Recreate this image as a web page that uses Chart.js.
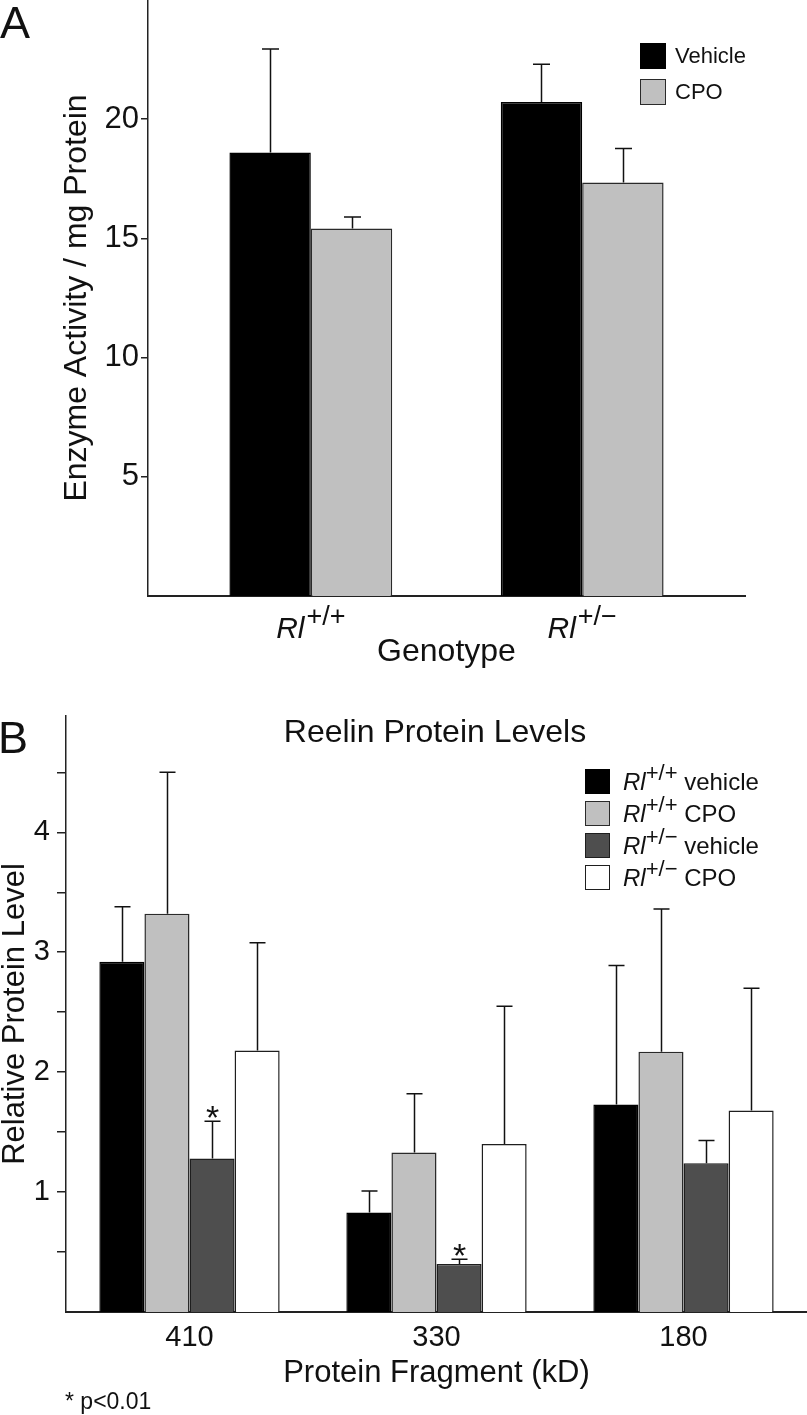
<!DOCTYPE html>
<html>
<head>
<meta charset="utf-8">
<script src="https://cdn.jsdelivr.net/npm/chart.js@4.4.0/dist/chart.umd.min.js"></script>
<style>
  body { margin: 0; background: #fff; font-family: "Liberation Sans", Arial, sans-serif; color: #111; }
  #page { position: relative; width: 807px; height: 1415px; overflow: hidden; }
  .panel { position: absolute; left: 0; width: 807px; }
  .txt { position: absolute; line-height: 1; white-space: nowrap; }
  .letter { font-size: 45px; }
  .legend { position: absolute; }
  .legend .row { display: flex; align-items: center; }
  .legend .sw { box-sizing: border-box; border: 1.5px solid #222; }
  .legend i { font-style: italic; }
  .legend sup { vertical-align: baseline; position: relative; }
</style>
</head>
<body>
<div id="page">
  <div class="panel" style="top:0;height:680px"><canvas id="enzyme-chart"></canvas></div>
  <div class="panel" style="top:680px;height:735px"><canvas id="reelin-chart"></canvas></div>

  <div class="txt letter" style="left:0;top:0">A</div>
  <div class="txt letter" style="left:-2px;top:715px">B</div>
  <div class="txt" style="left:435px;top:715px;font-size:32px;transform:translateX(-50%)">Reelin Protein Levels</div>
  <div class="txt" style="left:65px;top:1390px;font-size:23px">* p&lt;0.01</div>

  <div class="legend" id="legend-a" style="left:640px;top:43px;font-size:22px"></div>
  <div class="legend" id="legend-b" style="left:585px;top:769px;font-size:24px"></div>
</div>

<script>
//panel A data
let genotypeBase = ['Rl', 'Rl'];
let genotypeSup = ['+/+', '+/\u2212'];
let vehicleMeans = [18.6, 20.72];
let vehicleErr = [4.34, 1.58];
let cpoMeans = [15.42, 17.34];
let cpoErr = [0.48, 1.43];
let enzymeTicks = [5, 10, 15, 20];

//panel B data
let fragments = ['410', '330', '180'];
let wtVehicle = [2.92, 0.83, 1.73];
let wtVehicleErr = [0.46, 0.18, 1.16];
let wtCpo = [3.32, 1.33, 2.17];
let wtCpoErr = [1.18, 0.49, 1.19];
let hetVehicle = [1.28, 0.40, 1.24];
let hetVehicleErr = [0.31, 0.04, 0.19];
let hetCpo = [2.18, 1.40, 1.68];
let hetCpoErr = [0.90, 1.15, 1.02];
let hetVehicleSig = [true, true, false];
let reelinTicks = [0.5, 1, 1.5, 2, 2.5, 3, 3.5, 4, 4.5];
let legendGenotype = ['+/+', '+/+', '+/\u2212', '+/\u2212'];
let legendTreatment = ['vehicle', 'CPO', 'vehicle', 'CPO'];

const FONT = '"Liberation Sans", Arial, sans-serif';
Chart.defaults.font.family = FONT;
Chart.defaults.color = '#111';

//error bars (upper only) + significance stars
const errorBars = {
  id: 'errorBars',
  afterDatasetsDraw(chart, args, opts) {
    const ctx = chart.ctx;
    const yScale = chart.scales.y;
    ctx.save();
    ctx.strokeStyle = '#111';
    ctx.fillStyle = '#111';
    ctx.lineWidth = opts.lineWidth;
    chart.data.datasets.forEach((ds, i) => {
      if (!ds.errors) return;
      const meta = chart.getDatasetMeta(i);
      meta.data.forEach((bar, j) => {
        const d = ds.data[j];
        const v = typeof d === 'object' ? d.y : d;
        const top = yScale.getPixelForValue(v + ds.errors[j]);
        const x = Math.round(bar.x) + 0.5;
        ctx.beginPath();
        ctx.moveTo(x, bar.y);
        ctx.lineTo(x, top);
        ctx.moveTo(x - opts.cap / 2, top);
        ctx.lineTo(x + opts.cap / 2, top);
        ctx.stroke();
        if (ds.stars && ds.stars[j]) {
          ctx.font = '34px ' + FONT;
          ctx.textAlign = 'center';
          ctx.textBaseline = 'alphabetic';
          ctx.fillText('*', x, top + 8);
        }
      });
    });
    ctx.restore();
  }
};

//genotype tick labels with italic Rl and superscript
const genotypeLabels = {
  id: 'genotypeLabels',
  afterDraw(chart) {
    const ctx = chart.ctx;
    const xScale = chart.scales.x;
    const base = chart.chartArea.bottom + 42;
    ctx.save();
    ctx.fillStyle = '#111';
    ctx.textBaseline = 'alphabetic';
    ctx.textAlign = 'left';
    genotypeBase.forEach((txt, i) => {
      const cx = xScale.getPixelForValue(i + 1);
      ctx.font = 'italic 30px ' + FONT;
      const w1 = ctx.measureText(txt).width;
      ctx.font = '27px ' + FONT;
      const w2 = ctx.measureText(genotypeSup[i]).width;
      let x = cx - (w1 + w2 + 2) / 2;
      ctx.font = 'italic 30px ' + FONT;
      ctx.fillText(txt, x, base);
      ctx.font = '27px ' + FONT;
      ctx.fillText(genotypeSup[i], x + w1 + 2, base - 13);
    });
    ctx.restore();
  }
};

//enzyme chart
const enzymeCanvas = document.getElementById('enzyme-chart');
const enzymeData = {
  datasets: [{
    label: 'Vehicle',
    data: vehicleMeans.map((v, i) => ({x: i + 1, y: v})),
    errors: vehicleErr,
    backgroundColor: '#000000',
    borderColor: '#000000',
    borderWidth: 1.5
  }, {
    label: 'CPO',
    data: cpoMeans.map((v, i) => ({x: i + 1, y: v})),
    errors: cpoErr,
    backgroundColor: '#c0c0c0',
    borderColor: '#2a2a2a',
    borderWidth: 1.5
  }]
};

const enzymeOptions = {
  responsive: true,
  maintainAspectRatio: false,
  animation: false,
  layout: {padding: {left: 54, right: 62, top: 0, bottom: 5}},
  datasets: {bar: {categoryPercentage: 0.6, barPercentage: 1, borderSkipped: 'bottom'}},
  scales: {
    x: {
      type: 'linear',
      offset: false,
      min: 0.4,
      max: 2.6,
      z: 1,
      grid: {display: false, drawTicks: false, offset: false},
      border: {display: true, color: '#222', width: 2},
      ticks: {display: false},
      afterBuildTicks: s => { s.ticks = genotypeBase.map((g, i) => ({value: i + 1})); },
      afterFit: s => { s.height = 79; s.paddingLeft = 0; s.paddingRight = 0; },
      title: {display: true, text: 'Genotype', font: {size: 32, lineHeight: 1.2}, padding: {top: 4, bottom: 4}}
    },
    y: {
      min: 0,
      max: 25,
      grid: {display: true, drawOnChartArea: false, drawTicks: true, tickLength: 7, color: '#222', lineWidth: 1.5},
      border: {display: true, color: '#222', width: 1.5},
      ticks: {font: {size: 31}, padding: 2, color: '#111'},
      afterBuildTicks: s => { s.ticks = enzymeTicks.map(v => ({value: v})); },
      afterFit: s => { s.width = 94; s.paddingTop = 0; s.paddingBottom = 0; },
      title: {display: true, text: 'Enzyme Activity / mg Protein', font: {size: 32, lineHeight: 1.2}, padding: {top: 4, bottom: 4}}
    }
  },
  plugins: {
    legend: {display: false},
    tooltip: {enabled: false},
    errorBars: {cap: 17, lineWidth: 1.5}
  }
};

let enzymeChart = new Chart(enzymeCanvas, {
  type: 'bar',
  data: enzymeData,
  options: enzymeOptions,
  plugins: [errorBars, genotypeLabels]
});

//reelin chart
const reelinCanvas = document.getElementById('reelin-chart');
const reelinData = {
  labels: fragments,
  datasets: [{
    label: 'Rl+/+ vehicle',
    data: wtVehicle,
    errors: wtVehicleErr,
    backgroundColor: '#000000',
    borderColor: '#000000',
    borderWidth: 1.5
  }, {
    label: 'Rl+/+ CPO',
    data: wtCpo,
    errors: wtCpoErr,
    backgroundColor: '#c0c0c0',
    borderColor: '#2a2a2a',
    borderWidth: 1.5
  }, {
    label: 'Rl+/- vehicle',
    data: hetVehicle,
    errors: hetVehicleErr,
    stars: hetVehicleSig,
    backgroundColor: '#4e4e4e',
    borderColor: '#1e1e1e',
    borderWidth: 1.5
  }, {
    label: 'Rl+/- CPO',
    data: hetCpo,
    errors: hetCpoErr,
    backgroundColor: '#ffffff',
    borderColor: '#1e1e1e',
    borderWidth: 1.5
  }]
};

const reelinOptions = {
  responsive: true,
  maintainAspectRatio: false,
  animation: false,
  layout: {padding: {left: 0, right: 0, top: 36, bottom: 19}},
  datasets: {bar: {categoryPercentage: 0.73, barPercentage: 1, borderSkipped: 'bottom'}},
  scales: {
    x: {
      offset: true,
      z: 1,
      grid: {display: false, drawTicks: false},
      border: {display: true, color: '#222', width: 2},
      ticks: {font: {size: 29, lineHeight: 1.2}, padding: 9, color: '#111'},
      afterFit: s => { s.height = 84; s.paddingLeft = 0; s.paddingRight = 0; },
      title: {display: true, text: 'Protein Fragment (kD)', font: {size: 31, lineHeight: 1.2}, padding: {top: 4, bottom: 4}}
    },
    y: {
      min: 0,
      max: 4.97,
      grid: {display: true, drawOnChartArea: false, drawTicks: true, tickLength: 9, color: '#222', lineWidth: 1.5},
      border: {display: true, color: '#222', width: 1.5},
      ticks: {
        font: {size: 29},
        padding: 7,
        color: '#111',
        callback: v => Number.isInteger(v) ? String(v) : ''
      },
      afterBuildTicks: s => { s.ticks = reelinTicks.map(v => ({value: v})); },
      afterFit: s => { s.width = 66; s.paddingTop = 0; s.paddingBottom = 0; },
      title: {display: true, text: 'Relative Protein Level', font: {size: 31, lineHeight: 1}, padding: {top: 0, bottom: 0}}
    }
  },
  plugins: {
    legend: {display: false},
    tooltip: {enabled: false},
    errorBars: {cap: 16, lineWidth: 1.5}
  }
};

let reelinChart = new Chart(reelinCanvas, {
  type: 'bar',
  data: reelinData,
  options: reelinOptions,
  plugins: [errorBars]
});

//legends (html, so the genotype can be italic with superscript)
function buildLegend(el, chart, size, gap, space, labelHtml) {
  chart.data.datasets.forEach((ds, i) => {
    const row = document.createElement('div');
    row.className = 'row';
    row.style.height = size + 'px';
    row.style.marginBottom = gap + 'px';
    const sw = document.createElement('div');
    sw.className = 'sw';
    sw.style.width = size + 'px';
    sw.style.height = size + 'px';
    sw.style.background = ds.backgroundColor;
    sw.style.borderColor = ds.borderColor;
    sw.style.marginRight = space + 'px';
    row.appendChild(sw);
    const label = document.createElement('span');
    label.innerHTML = labelHtml(ds, i);
    row.appendChild(label);
    el.appendChild(row);
  });
}

buildLegend(document.getElementById('legend-a'), enzymeChart, 26, 10, 9,
  ds => ds.label);

buildLegend(document.getElementById('legend-b'), reelinChart, 25, 7, 13,
  (ds, i) => '<i>Rl</i><sup style="font-size:22px;top:-10px">' +
    legendGenotype[i] + '</sup> ' + legendTreatment[i]);
</script>
</body>
</html>
